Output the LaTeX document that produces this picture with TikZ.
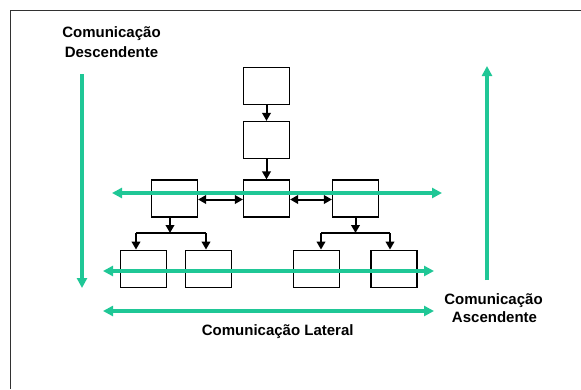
\documentclass[tikz,border=0pt]{standalone}
\usepackage{fontspec}
\setmainfont{Liberation Sans}
\usetikzlibrary{arrows.meta}
\definecolor{comgreen}{RGB}{31,199,150}
\definecolor{framegray}{RGB}{50,50,50}
\begin{document}
\begin{tikzpicture}[x=1pt,y=-1pt,
  box/.style={draw=black,line width=1.2pt,fill=white,minimum width=46pt,minimum height=37pt,inner sep=0pt},
  blk/.style={line width=2pt,-{Triangle[length=8pt,width=8.5pt]}},
  blkbi/.style={line width=2pt,{Triangle[length=8pt,width=8.5pt]}-{Triangle[length=8pt,width=8.5pt]}},
  grn/.style={draw=comgreen,line width=3.2pt,-{Triangle[length=10pt,width=10pt]}},
  grnbi/.style={draw=comgreen,line width=3.2pt,{Triangle[length=10pt,width=10pt]}-{Triangle[length=10pt,width=10pt]}},
  lbl/.style={font=\fontsize{15}{17}\selectfont\bfseries,align=center,inner sep=0pt}]
\useasboundingbox (0,0) rectangle (581,389);
% frame (top and left edges)
\draw[framegray,line width=1.6pt] (10.5,389) -- (10.5,10.5) -- (581,10.5);
% boxes
\node[box] (t1) at (266.5,86) {};
\node[box] (t2) at (266.5,140) {};
\node[box] (mL) at (174.5,198.5) {};
\node[box] (mC) at (266.5,198.5) {};
\node[box] (mR) at (355.5,198.5) {};
\node[box] (b1) at (143.3,268.7) {};
\node[box] (b2) at (208.3,268.7) {};
\node[box] (b3) at (316.8,268.7) {};
\node[box] (b4) at (394,268.7) {};
% black arrows
\draw[blk] (t1) -- (t2);
\draw[blk] (t2) -- (mC);
\coordinate (hL) at (174.5,199.5);
\draw[blkbi] (mL.east |- hL) -- (mC.west |- hL);
\draw[blkbi] (mC.east |- hL) -- (mR.west |- hL);
% left tree
\coordinate (jL) at (170,233);
\coordinate (cL1) at (136,233);
\coordinate (cL2) at (206,233);
\draw[blk] (mL.south -| jL) -- (jL);
\draw[line width=1.5pt] (cL1) -- (cL2);
\draw[blk] (cL1) -- (cL1 |- b1.north);
\draw[blk] (cL2) -- (cL2 |- b2.north);
% right tree
\coordinate (jR) at (355.5,233);
\coordinate (cR1) at (321,233);
\coordinate (cR2) at (390,233);
\draw[blk] (mR.south -| jR) -- (jR);
\draw[line width=1.5pt] (cR1) -- (cR2);
\draw[blk] (cR1) -- (cR1 |- b3.north);
\draw[blk] (cR2) -- (cR2 |- b4.north);
% green arrows
\coordinate (g1a) at (112,193);
\coordinate (g1b) at (442,193);
\coordinate (g2a) at (103,271);
\coordinate (g2b) at (434,271);
\coordinate (g3a) at (103,311);
\coordinate (g3b) at (434,311);
\coordinate (vLa) at (82,74);
\coordinate (vLb) at (82,288);
\coordinate (vRa) at (487,280);
\coordinate (vRb) at (487,66);
\draw[grnbi] (g1a) -- (g1b);
\draw[grnbi] (g2a) -- (g2b);
\draw[grnbi] (g3a) -- (g3b);
\draw[grn] (vLa) -- (vLb);
\draw[grn] (vRa) -- (vRb);
% labels
\node[lbl] (ld1) at (111.5,33.3) {Comunicação};
\node[lbl] (ld2) at (111.5,52.3) {Descendente};
\node[lbl] (la1) at (493.5,301) {Comunicação};
\node[lbl] (la2) at (494.5,317.3) {Ascendente};
\node[lbl] (ll) at (277.7,331.7) {Comunicação Lateral};
\end{tikzpicture}
\end{document}
